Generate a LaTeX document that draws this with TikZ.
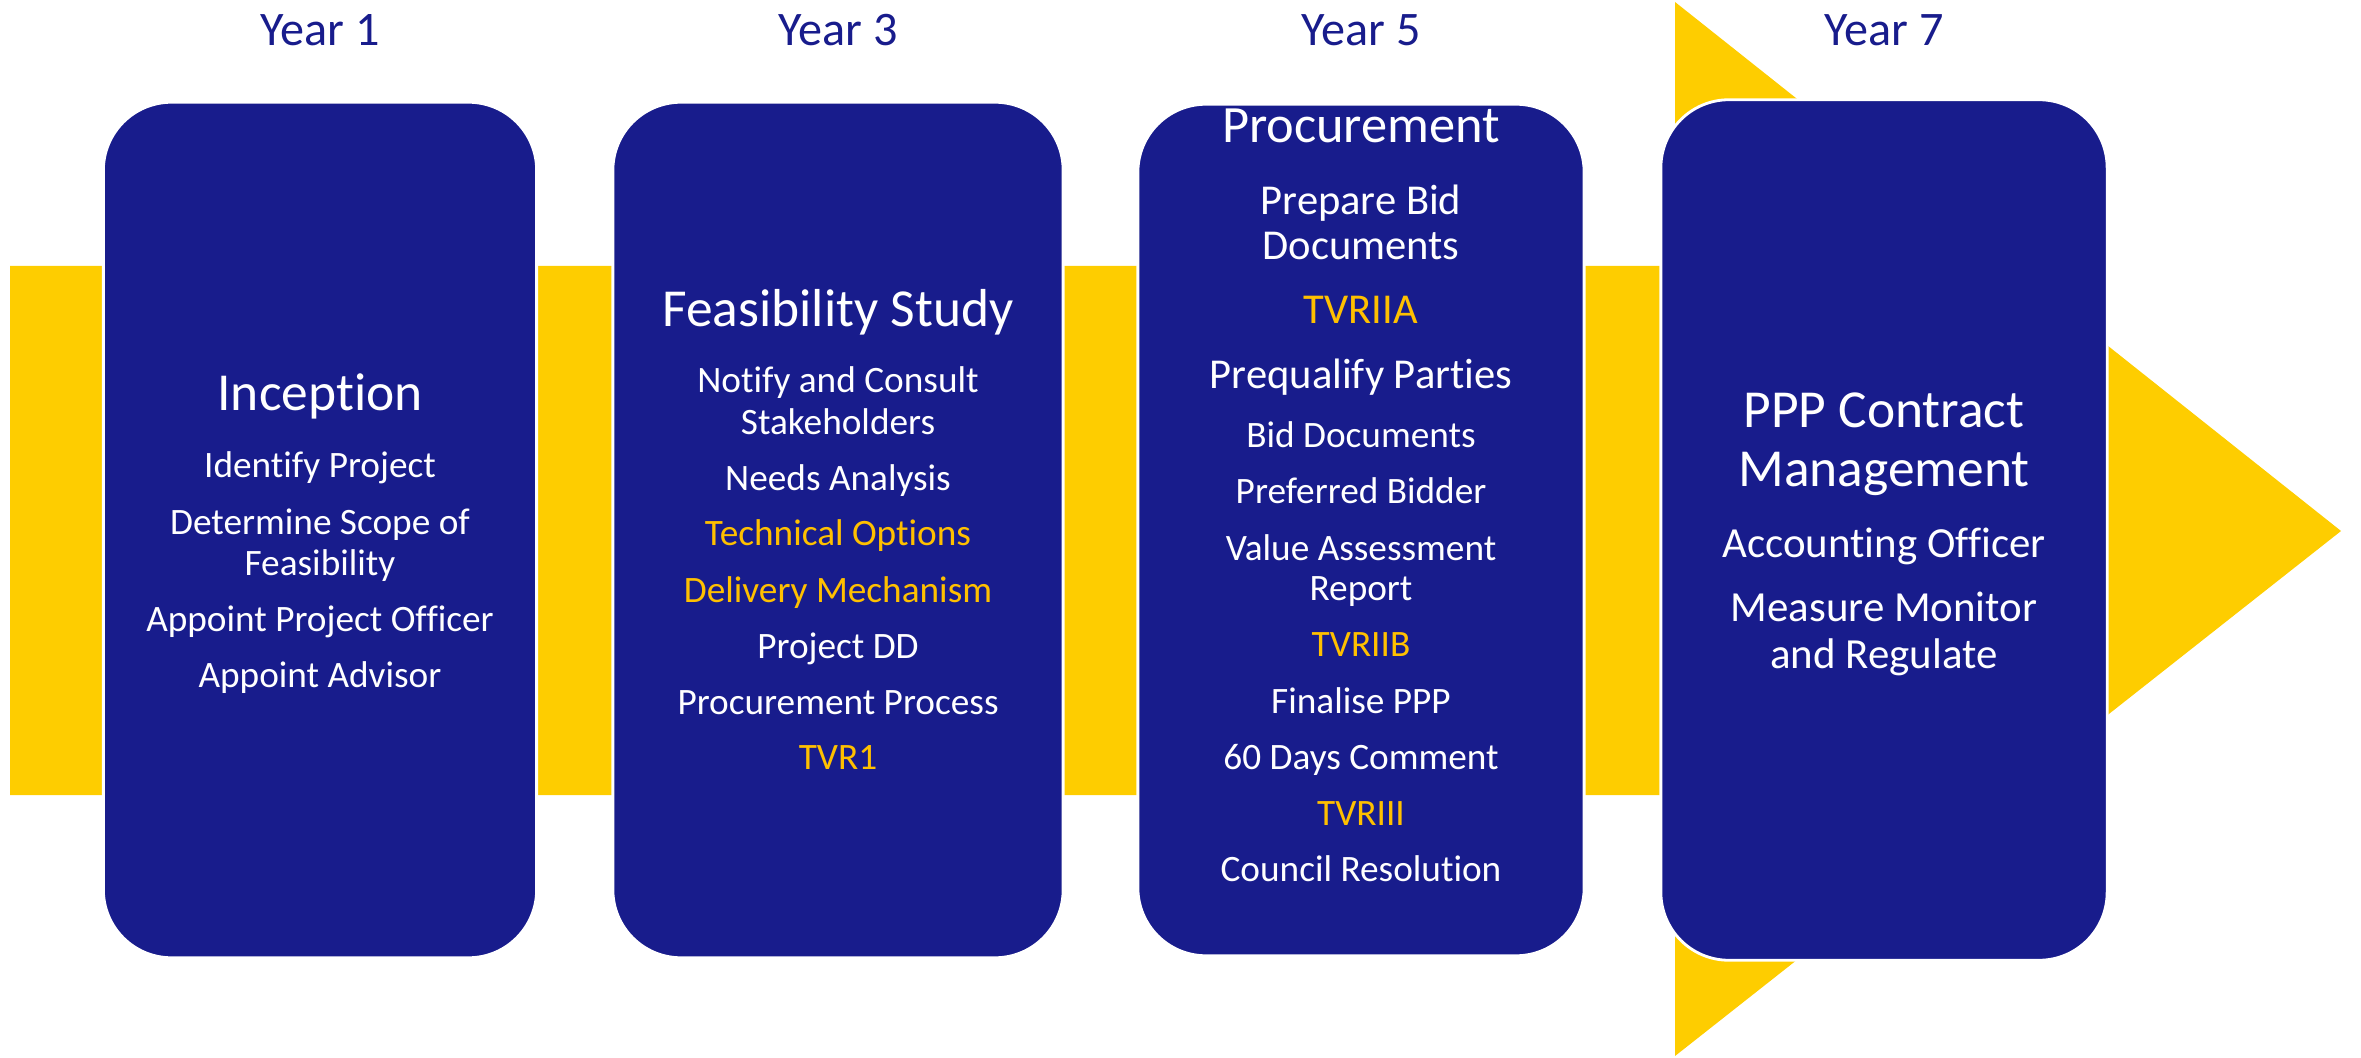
\documentclass[tikz,border=0pt]{standalone}
\usepackage{fontspec}
\setmainfont{Carlito}[Ligatures=NoCommon]
\definecolor{phasenavy}{RGB}{24,28,140}
\definecolor{phaseyellow}{RGB}{254,205,0}
\definecolor{phasegold}{RGB}{255,192,0}
\tikzset{
  phasebox/.style={fill=phasenavy, draw=white, line width=0.8pt, rounded corners=0.68cm, inner sep=0pt},
  yearlabel/.style={anchor=base, text=phasenavy, font=\fontsize{13.7}{16}\selectfont},
  phasetitle/.style={anchor=base, text=white, inner sep=0pt, font=\fontsize{15.2}{18}\selectfont},
  proctitle/.style={anchor=base, text=white, inner sep=0pt, font=\fontsize{14.9}{16}\selectfont},
  phaseitem/.style={anchor=base, text=white, inner sep=0pt, font=\fontsize{10.6}{13}\selectfont},
  phasehl/.style={phaseitem, text=phasegold},
  procitem/.style={anchor=base, text=white, inner sep=0pt, font=\fontsize{12.1}{14}\selectfont},
  prochl/.style={procitem, text=phasegold},
  mgmtitem/.style={anchor=base, text=white, inner sep=0pt, font=\fontsize{12.2}{14}\selectfont},
}
\begin{document}
\begin{tikzpicture}[x=0.01cm, y=-0.01cm]
  \useasboundingbox (0,0) rectangle (2361,1058);
  % pfeil
  \fill [phaseyellow] (10,266) -- (1675,266) -- (1675,2) -- (2341,531)
        -- (1675,1056) -- (1675,795) -- (10,795) -- cycle;
  % faze
  \node [phasebox, minimum width=4.33cm, minimum height=8.55cm] (inception) at (320,530) {};
  \node [phasebox, minimum width=4.50cm, minimum height=8.55cm] (feasibility) at (838,530) {};
  \node [phasebox, minimum width=4.46cm, minimum height=8.51cm] (procurement) at (1361,530) {};
  \node [phasebox, minimum width=4.46cm, minimum height=8.60cm] (management) at (1884,530) {};
  % leta
  \node [yearlabel] (year1) at (320,46) {Year 1};
  \node [yearlabel] (year3) at (838,46) {Year 3};
  \node [yearlabel] (year5) at (1361,46) {Year 5};
  \node [yearlabel] (year7) at (1884,46) {Year 7};
  % besedila
  \foreach \y/\s/\t [count=\i] in {411/phasetitle/Inception,
      478/phaseitem/Identify Project, 534/phaseitem/Determine Scope of,
      575/phaseitem/Feasibility, 631/phaseitem/Appoint Project Officer,
      687/phaseitem/Appoint Advisor}
    \node [\s] (inc\i) at (320,\y) {\t};
  \foreach \y/\s/\t [count=\i] in {327/phasetitle/Feasibility Study,
      393/phaseitem/Notify and Consult, 434/phaseitem/Stakeholders,
      490/phaseitem/Needs Analysis, 545/phasehl/Technical Options,
      602/phasehl/Delivery Mechanism, 658/phaseitem/Project DD,
      714/phaseitem/Procurement Process, 769/phasehl/TVR1}
    \node [\s] (fea\i) at (838,\y) {\t};
  \foreach \y/\s/\t [count=\i] in {143/proctitle/Procurement,
      215/procitem/Prepare Bid, 260/procitem/Documents, 324/prochl/TVRIIA,
      389/procitem/Prequalify Parties, 447/phaseitem/Bid Documents,
      503/phaseitem/Preferred Bidder, 560/phaseitem/Value Assessment,
      600/phaseitem/Report, 656/phasehl/TVRIIB, 713/phaseitem/Finalise PPP,
      769/phaseitem/60 Days Comment, 825/phasehl/TVRIII,
      881/phaseitem/Council Resolution}
    \node [\s] (pro\i) at (1361,\y) {\t};
  \foreach \y/\s/\t [count=\i] in {428/phasetitle/PPP Contract,
      486/phasetitle/Management, 557/mgmtitem/Accounting Officer,
      621/mgmtitem/Measure Monitor, 668/mgmtitem/and Regulate}
    \node [\s] (mgm\i) at (1884,\y) {\t};
\end{tikzpicture}
\end{document}
